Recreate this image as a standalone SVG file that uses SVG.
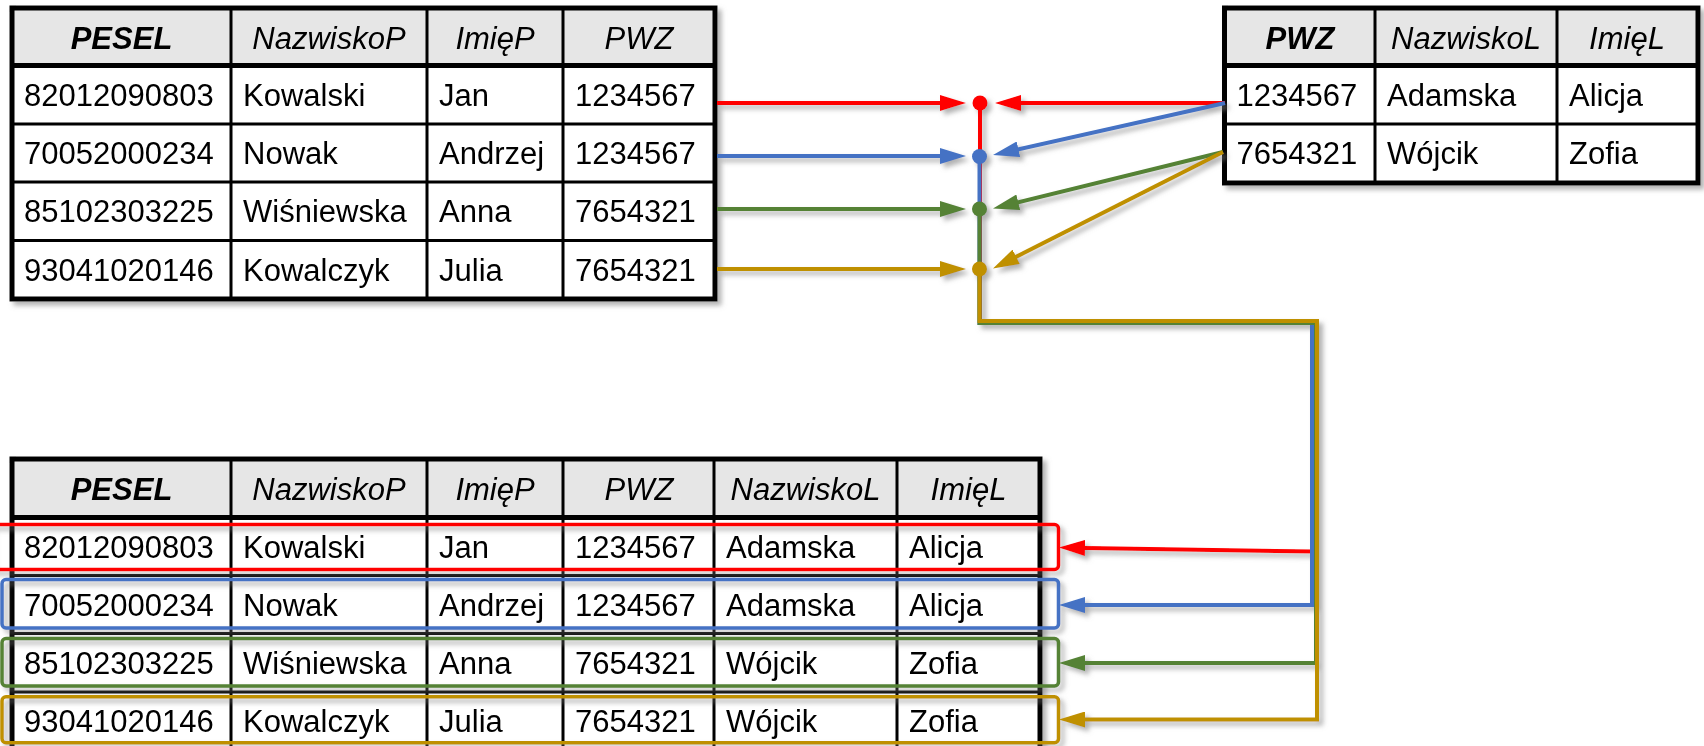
<svg xmlns="http://www.w3.org/2000/svg" width="1704" height="746" viewBox="0 0 1704 746">
<style>
.bg{fill:#ffffff}
.hd{fill:#e6e6e6}
.outer{fill:none;stroke:#000;stroke-width:5}
.hline{stroke:#000;stroke-width:5}
.grid{stroke:#000;stroke-width:3}
text{font-family:"Liberation Sans",Arial,sans-serif;font-size:31px;fill:#000}
.h{font-style:italic;text-anchor:middle}
.hb{font-style:italic;font-weight:bold;text-anchor:middle}
.c{stroke-width:4;fill:none;stroke-linejoin:miter}
.red{stroke:#ff0000}
.blue{stroke:#4472c4}
.green{stroke:#548235}
.gold{stroke:#bf9000}
.box{fill:none;stroke-width:3.5}
</style>
<defs>
<filter id="sh" x="-5%" y="-5%" width="115%" height="120%">
<feDropShadow dx="4" dy="4" stdDeviation="2.5" flood-color="#7f7f7f" flood-opacity="0.6"/>
</filter>
<marker id="ar-red" viewBox="0 0 26 16" refX="16" refY="8" markerWidth="26" markerHeight="16" markerUnits="userSpaceOnUse" orient="auto"><path d="M0,0 L26,8 L0,16 z" fill="#ff0000"/></marker>
<marker id="ar-blue" viewBox="0 0 26 16" refX="16" refY="8" markerWidth="26" markerHeight="16" markerUnits="userSpaceOnUse" orient="auto"><path d="M0,0 L26,8 L0,16 z" fill="#4472c4"/></marker>
<marker id="ar-green" viewBox="0 0 26 16" refX="16" refY="8" markerWidth="26" markerHeight="16" markerUnits="userSpaceOnUse" orient="auto"><path d="M0,0 L26,8 L0,16 z" fill="#548235"/></marker>
<marker id="ar-gold" viewBox="0 0 26 16" refX="16" refY="8" markerWidth="26" markerHeight="16" markerUnits="userSpaceOnUse" orient="auto"><path d="M0,0 L26,8 L0,16 z" fill="#bf9000"/></marker>
</defs>
<rect x="0" y="0" width="1704" height="746" fill="#ffffff"/>

<g id="table-pacjenci" filter="url(#sh)">
<rect class="bg" x="12" y="8" width="703" height="291"/>
<rect class="hd" x="12" y="8" width="703" height="57.5"/>
<line class="grid" x1="231" y1="8" x2="231" y2="299"/>
<line class="grid" x1="427" y1="8" x2="427" y2="299"/>
<line class="grid" x1="563" y1="8" x2="563" y2="299"/>
<line class="grid" x1="12" y1="124" x2="715" y2="124"/>
<line class="grid" x1="12" y1="182" x2="715" y2="182"/>
<line class="grid" x1="12" y1="240.5" x2="715" y2="240.5"/>
<line class="hline" x1="12" y1="65.5" x2="715" y2="65.5"/>
<rect class="outer" x="12" y="8" width="703" height="291"/>
<text class="hb" x="121.5" y="49">PESEL</text>
<text class="h" x="329" y="49">NazwiskoP</text>
<text class="h" x="495" y="49">ImięP</text>
<text class="h" x="639" y="49">PWZ</text>
<text x="24" y="106">82012090803</text><text x="243" y="106">Kowalski</text><text x="439" y="106">Jan</text><text x="575" y="106">1234567</text>
<text x="24" y="164">70052000234</text><text x="243" y="164">Nowak</text><text x="439" y="164">Andrzej</text><text x="575" y="164">1234567</text>
<text x="24" y="222">85102303225</text><text x="243" y="222">Wiśniewska</text><text x="439" y="222">Anna</text><text x="575" y="222">7654321</text>
<text x="24" y="281">93041020146</text><text x="243" y="281">Kowalczyk</text><text x="439" y="281">Julia</text><text x="575" y="281">7654321</text>
</g>

<g id="table-lekarze" filter="url(#sh)">
<rect class="bg" x="1224.5" y="8" width="473.5" height="175"/>
<rect class="hd" x="1224.5" y="8" width="473.5" height="57.5"/>
<line class="grid" x1="1375" y1="8" x2="1375" y2="183"/>
<line class="grid" x1="1557" y1="8" x2="1557" y2="183"/>
<line class="grid" x1="1224.5" y1="124" x2="1698" y2="124"/>
<line class="hline" x1="1224.5" y1="65.5" x2="1698" y2="65.5"/>
<rect class="outer" x="1224.5" y="8" width="473.5" height="175"/>
<text class="hb" x="1300" y="49">PWZ</text>
<text class="h" x="1466" y="49">NazwiskoL</text>
<text class="h" x="1627" y="49">ImięL</text>
<text x="1236.5" y="106">1234567</text><text x="1387" y="106">Adamska</text><text x="1569" y="106">Alicja</text>
<text x="1236.5" y="164">7654321</text><text x="1387" y="164">Wójcik</text><text x="1569" y="164">Zofia</text>
</g>

<g id="table-wynik" filter="url(#sh)">
<rect class="bg" x="12" y="459" width="1028" height="300"/>
<rect class="hd" x="12" y="459" width="1028" height="58.5"/>
<line class="grid" x1="231" y1="459" x2="231" y2="759"/>
<line class="grid" x1="427" y1="459" x2="427" y2="759"/>
<line class="grid" x1="563" y1="459" x2="563" y2="759"/>
<line class="grid" x1="714" y1="459" x2="714" y2="759"/>
<line class="grid" x1="897" y1="459" x2="897" y2="759"/>
<line class="grid" x1="12" y1="575.5" x2="1040" y2="575.5"/>
<line class="grid" x1="12" y1="633.5" x2="1040" y2="633.5"/>
<line class="grid" x1="12" y1="692" x2="1040" y2="692"/>
<line class="hline" x1="12" y1="517.5" x2="1040" y2="517.5"/>
<rect class="outer" x="12" y="459" width="1028" height="300"/>
<text class="hb" x="121.5" y="500">PESEL</text>
<text class="h" x="329" y="500">NazwiskoP</text>
<text class="h" x="495" y="500">ImięP</text>
<text class="h" x="639" y="500">PWZ</text>
<text class="h" x="805.5" y="500">NazwiskoL</text>
<text class="h" x="968.5" y="500">ImięL</text>
<text x="24" y="557.5">82012090803</text><text x="243" y="557.5">Kowalski</text><text x="439" y="557.5">Jan</text><text x="575" y="557.5">1234567</text><text x="726" y="557.5">Adamska</text><text x="909" y="557.5">Alicja</text>
<text x="24" y="615.5">70052000234</text><text x="243" y="615.5">Nowak</text><text x="439" y="615.5">Andrzej</text><text x="575" y="615.5">1234567</text><text x="726" y="615.5">Adamska</text><text x="909" y="615.5">Alicja</text>
<text x="24" y="673.5">85102303225</text><text x="243" y="673.5">Wiśniewska</text><text x="439" y="673.5">Anna</text><text x="575" y="673.5">7654321</text><text x="726" y="673.5">Wójcik</text><text x="909" y="673.5">Zofia</text>
<text x="24" y="731.5">93041020146</text><text x="243" y="731.5">Kowalczyk</text><text x="439" y="731.5">Julia</text><text x="575" y="731.5">7654321</text><text x="726" y="731.5">Wójcik</text><text x="909" y="731.5">Zofia</text>
</g>

<g id="row-highlights" filter="url(#sh)">
<rect class="box red" x="-10" y="524.5" width="1068.5" height="45" rx="4"/>
<rect class="box blue" x="2" y="579.5" width="1056.5" height="48.5" rx="4"/>
<rect class="box green" x="2" y="638.5" width="1056.5" height="47.5" rx="4"/>
<rect class="box gold" x="2" y="696.8" width="1056.5" height="46" rx="4"/>
</g>

<g id="connectors" filter="url(#sh)">
<line class="c red" x1="717" y1="103" x2="956" y2="103" marker-end="url(#ar-red)"/>
<line class="c blue" x1="717" y1="156" x2="956" y2="156" marker-end="url(#ar-blue)"/>
<line class="c green" x1="717" y1="209" x2="956" y2="209" marker-end="url(#ar-green)"/>
<line class="c gold" x1="717" y1="269" x2="956" y2="269" marker-end="url(#ar-gold)"/>
<line class="c red" x1="1225" y1="103" x2="1005" y2="103" marker-end="url(#ar-red)"/>
<line class="c blue" x1="1225" y1="103" x2="1002.8" y2="152.8" marker-end="url(#ar-blue)"/>
<line class="c green" x1="1223" y1="152" x2="1002.7" y2="206.1" marker-end="url(#ar-green)"/>
<line class="c gold" x1="1223" y1="152" x2="1001.9" y2="264" marker-end="url(#ar-gold)"/>
<path class="c red" d="M980,103 V323 H1313 V551.5 L1069,547.7" marker-end="url(#ar-red)"/>
<path class="c blue" d="M979.5,156.5 V323 H1312 V605 H1069" marker-end="url(#ar-blue)"/>
<path class="c green" d="M979.5,209 V323 H1316 V663 H1069" marker-end="url(#ar-green)"/>
<path class="c gold" d="M979.5,269 V321 H1317 V719.5 H1069" marker-end="url(#ar-gold)"/>
<circle cx="980" cy="103" r="7.5" fill="#ff0000"/>
<circle cx="979.5" cy="156.5" r="7.5" fill="#4472c4"/>
<circle cx="979.5" cy="209" r="7.5" fill="#548235"/>
<circle cx="979.5" cy="269" r="7.5" fill="#bf9000"/>
</g>
</svg>
